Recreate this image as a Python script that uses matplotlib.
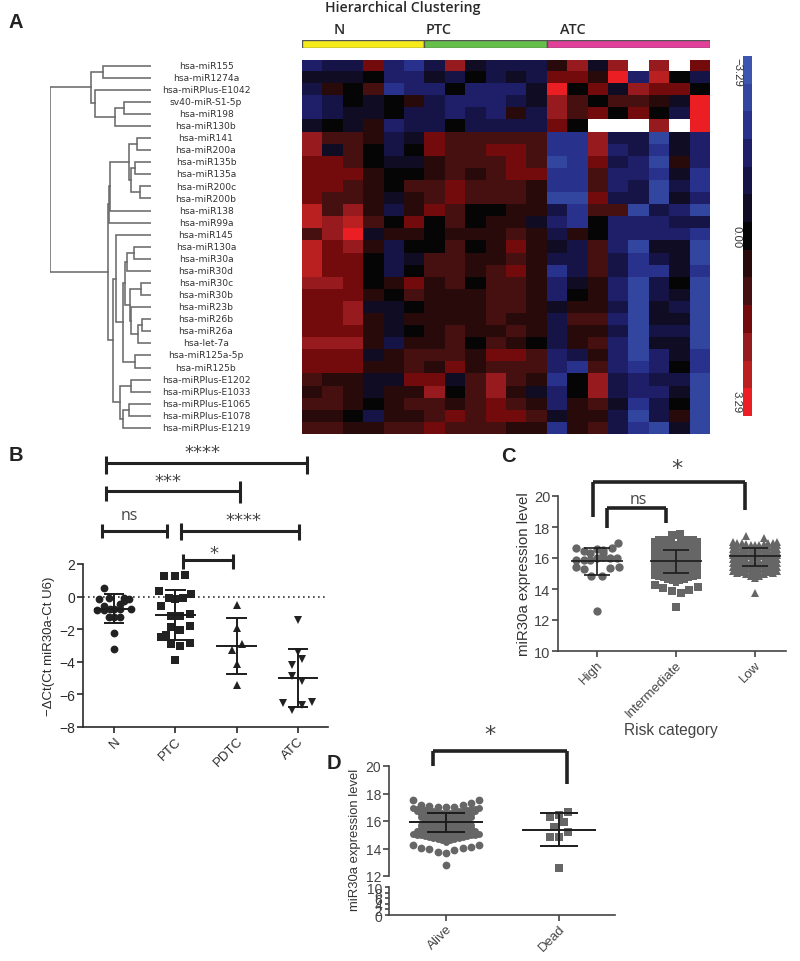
import numpy as np
import matplotlib
matplotlib.use("Agg")
import matplotlib.pyplot as plt
from matplotlib.colors import ListedColormap

W, H = 800, 962
SANS = "Liberation Sans"
plt.rcParams["font.family"] = [SANS, "DejaVu Sans"]

# ---------- Panel A data ----------
mirnas = ["hsa-miR155", "hsa-miR1274a", "hsa-miRPlus-E1042", "sv40-miR-S1-5p", "hsa-miR198", "hsa-miR130b",
          "hsa-miR141", "hsa-miR200a", "hsa-miR135b", "hsa-miR135a", "hsa-miR200c", "hsa-miR200b",
          "hsa-miR138", "hsa-miR99a", "hsa-miR145", "hsa-miR130a", "hsa-miR30a", "hsa-miR30d",
          "hsa-miR30c", "hsa-miR30b", "hsa-miR23b", "hsa-miR26b", "hsa-miR26a", "hsa-let-7a",
          "hsa-miR125a-5p", "hsa-miR125b", "hsa-miRPlus-E1202", "hsa-miRPlus-E1033",
          "hsa-miRPlus-E1065", "hsa-miRPlus-E1078", "hsa-miRPlus-E1219"]
X = np.nan
# colour steps: -6 (blue, -3.29) .. 0 (black) .. +6 (red, +3.29)
heat_steps = [
    [-3,-2,-2, 3,-3,-4,-2, 4,-1,-2,-2,-2, 1, 4,-1, 4, X, 4, X, 3],
    [-1,-1,-1, 0,-3,-3,-1,-2, 0,-2,-1,-2, 3, 3, 1, 6,-3, 5, 0,-2],
    [-2, 1, 0, 2,-4,-3,-3, 0,-3,-3,-3,-1, 6, 0, 3,-1, 4, 3, 3, 0],
    [-3,-2, 0,-1, 0, 1,-2,-3,-3,-3,-2,-1, 4, 2, 0, 2, 2, 1,-1, 6],
    [-3,-2,-1,-1, 0,-2,-2,-3,-2,-3, 1,-2, 4, 2, 3, 0, 3, 0,-2, 6],
    [-1, 0,-1, 1,-3,-2,-2, 0,-2,-2,-2,-2, 3, 0, X, X, X, 4, X, 6],
    [ 4, 2, 2, 1,-2,-1, 3, 2, 2, 2, 2, 2,-4,-4, 4,-2,-2,-5,-1,-3],
    [ 4,-1, 2, 0,-2, 0, 3, 2, 2, 3, 3, 2,-4,-4, 4,-3,-2,-4,-1,-3],
    [ 3, 3, 2, 0,-1,-1, 1, 2, 2, 2, 3, 2,-5,-4, 3,-2,-3,-5, 1,-3],
    [ 3, 3, 3, 1, 0, 0, 1, 2, 1, 2, 3, 3,-4,-4, 2,-3,-3,-4,-1,-4],
    [ 3, 3, 2, 1, 0, 2, 2, 3, 2, 2, 2, 1,-4,-4, 2,-3,-2,-5,-2,-4],
    [ 3, 2, 2, 1,-1, 1, 2, 3, 2, 2, 2, 1,-5,-5, 3,-2,-2,-5,-1,-3],
    [ 5, 2, 4, 1,-2, 1, 3, 2, 0, 0, 1, 1,-2,-4, 2, 2,-5,-2,-3,-5],
    [ 5, 4, 5, 2, 0, 3, 0, 2, 0, 1, 1,-1,-3,-4, 0,-3,-3,-3,-2,-2],
    [ 2, 4, 6,-1, 1, 1, 0, 1, 1, 1, 2, 1,-2, 1, 0,-3,-3,-3,-3,-4],
    [ 5, 3, 4, 1,-2, 0, 0, 2, 0, 1, 3, 1,-1,-2, 2,-3,-5,-1,-1,-5],
    [ 5, 3, 3, 0,-2,-1, 2, 2, 1, 1, 2, 1,-2,-2, 2,-2,-4,-2,-1,-5],
    [ 5, 3, 3, 0,-2, 0, 2, 2, 1, 2, 3, 1,-4,-2, 2,-2,-4,-4,-1,-4],
    [ 4, 4, 3, 0, 1, 3, 1, 2, 0, 2, 2, 1,-3,-1, 1,-3,-5,-2, 0,-5],
    [ 3, 3, 3, 1, 0, 2, 1, 1, 1, 2, 2, 1,-3, 0, 1,-3,-5,-2,-1,-5],
    [ 3, 3, 4,-1,-1, 0, 1, 1, 1, 2, 2, 1,-1, 1, 1,-2,-5,-1,-2,-5],
    [ 3, 3, 4, 1,-1, 1, 1, 1, 1, 2, 1, 1,-2, 2, 2,-3,-5,-1,-1,-5],
    [ 3, 3, 3, 1,-1, 0, 1, 2, 1, 1, 2, 1,-2, 1, 1,-2,-5,-2,-2,-5],
    [ 4, 4, 4, 1,-2, 1, 1, 2, 0, 2, 1, 0,-2, 1, 2,-3,-5,-1,-1,-5],
    [ 3, 3, 3,-1, 1, 2, 2, 2, 1, 3, 3, 2,-3,-2, 1,-3,-5,-3,-1,-4],
    [ 3, 3, 3, 1, 1, 2, 1, 3, 1, 2, 2, 2,-3,-4, 2,-3,-4,-3, 0,-4],
    [ 2, 1, 1,-1,-1, 3, 3,-1, 2, 4, 2, 1,-4, 0, 4,-2,-3,-2,-2,-5],
    [ 1, 2, 1,-1, 1, 1, 4, 0, 2, 4, 1,-1,-3, 0, 4,-2,-3,-3,-1,-5],
    [ 2, 2, 1, 0, 1, 2, 2, 1, 2, 3, 2, 1,-3, 1, 2,-1,-4,-2, 0,-5],
    [ 1, 1, 0,-2, 1, 1, 2, 3, 2, 3, 3, 2,-1, 1, 1,-2,-5,-2, 1,-5],
    [ 2, 2, 1, 1, 2, 2, 3, 2, 2, 2, 1, 1,-4, 1, 2,-2,-4,-5,-1,-5],
]
step_colors = ["#3c55af", "#32469f", "#28328c", "#1e1e69", "#161446", "#0f0c23", "#050505",
               "#280a0a", "#461010", "#730a0c", "#961a1e", "#b9201f", "#eb1e24"]
# merge tree: (distance, left, right); integers are row indices
tree = (101,
        (60, (48, 0, 1), (56, 2, (36, (27, 3, 4), 5))),
        (43,
         (42, (41, (22, (14, 6, 7), (20, (16, 8, 9), (11, 10, 11))), 12), 13),
         (38,
          (35, 14, (28,
                    (26, (24, (17, 15, 16), 17),
                     (21, (10, 18, 19), (20, 20, (13, (9, 21, 22), 23)))),
                    (16, 24, 25))),
          (31, (20, 26, 27), (28, (22, 28, 29), 30)))))

# ---------- Panel B data ----------
b_cats = ["N", "PTC", "PDTC", "ATC"]
b_mean = [-0.75, -1.1, -3.05, -5.0]
b_low = [-1.65, -2.65, -4.75, -6.8]
b_high = [0.15, 0.4, -1.3, -3.2]
n_dx = [-.16, -.25, .16, .25, .17, -.16, -.08, .09, -.27, -.16, -.07, 0, .09, .27, -.09, 0, .09, 0, 0]
n_y = [.55, -.15, -.1, -.15, -.3, -.55, -.1, -.45, -.8, -.8, -.75, -.75, -.75, -.75, -1.25, -1.25, -1.25, -2.25, -3.2]
ptc_dx = [-.18, 0, .16, -.26, -.11, .26, 0, .12, -.24, -.07, .08, .24, -.07, .08, .24, -.15, -.24, -.07, .08, .24, 0]
ptc_y = [1.25, 1.25, 1.35, .35, -.1, .15, -.15, -.1, -.6, -1.2, -1.2, -1.05, -1.85, -2.05, -1.8, -2.35, -2.5, -2.9, -3.05, -2.85, -3.9]
pdtc_dx = [0, 0, .08, -.08, 0, 0]
pdtc_y = [-.5, -1.95, -2.9, -3.25, -4.15, -5.45]
atc_dx = [0, .07, -.09, -.09, .07, -.24, .23, .07, -.09, 0]
atc_y = [-1.45, -3.8, -4.2, -4.85, -5.2, -6.55, -6.45, -6.65, -6.95, -3.4]

# ---------- Panel C data ----------
c_cats = ["High", "Intermediate", "Low"]
c_mean = [15.8, 15.8, 16.1]
c_low = [14.9, 15.05, 15.5]
c_high = [16.67, 16.5, 16.65]
high_dx = [-.27, .19, .27, -.17, 0, .07, -.09, .08, -.26, -.17, -.09, 0, .08, .16, .25, -.27, -.17, .16, .28, -.07, .06, 0]
high_y = [16.67, 16.63, 17.0, 16.45, 16.6, 16.35, 16.3, 16.5, 15.9, 15.9, 15.9, 16.0, 16.05, 16.03, 16.03, 15.43, 15.3, 15.35, 15.4, 14.85, 14.85, 12.55]
inter_bands = [
    [17.1, 17.2, 17.25, 17.2, 17.3, 17.4], [16.95, 16.9, 16.95, 16.9, 16.95, 16.9],
    [16.75, 16.7, 16.7, 16.7, 16.65, 16.6], [16.5, 16.45, 16.4, 16.4, 16.35, 16.3],
    [16.25, 16.2, 16.15, 16.1, 16.1, 16.05], [16.05, 16.0, 15.95, 15.9, 15.9, 15.85],
    [15.85, 15.8, 15.75, 15.7, 15.65, 15.6], [15.6, 15.55, 15.5, 15.45, 15.45, 15.4],
    [15.4, 15.35, 15.3, 15.25, 15.2, 15.15], [15.2, 15.15, 15.1, 15.0, 14.95, 14.9],
    [15.0, 14.95, 14.85, 14.75, 14.65, 14.55], [14.85, 14.8, 14.7, 14.6, 14.5, 14.4],
]
inter_dx = [-.27, -.16, -.05, .06, .17, .28, 0, -.05, .05]
inter_y = [14.25, 14.05, 13.9, 13.75, 13.95, 14.1, 12.85, 17.5, 17.55]
low_bands = [
    [17.05, 17.0, 16.95, 16.9, 16.85, 16.85], [16.85, 16.75, 16.7, 16.65, 16.6, 16.6],
    [16.6, 16.5, 16.45, 16.4, 16.35, 16.3], [16.4, 16.3, 16.2, 16.15, 16.1, 16.05],
    [16.2, 16.05, 15.95, 15.85, 15.8, 15.75], [15.95, 15.8, 15.7, 15.6, 15.55, 15.5],
    [15.7, 15.55, 15.45, 15.35, 15.3, 15.25], [15.45, 15.3, 15.2, 15.1, 15.05, 14.95],
    [15.15, 15.05, 15.1, 14.95, 14.85, 14.7],
]
low_dx = [-.12, .12, 0]
low_y = [17.42, 17.3, 13.73]

# ---------- Panel D data ----------
d_cats = ["Alive", "Dead"]
d_mean = [15.9, 15.37]
d_low = [15.2, 14.15]
d_high = [16.55, 16.6]
alive_dx = [-.294, -.22, -.148, -.074, 0, .074, .148, .22, .294,
            -.294, -.22, -.148, -.074, 0, .074, .148, .22, .294, 0]
alive_y = [17.53, 17.2, 17.1, 17.05, 17.0, 17.05, 17.15, 17.3, 17.5,
           14.23, 14.06, 13.94, 13.75, 13.7, 13.9, 14.04, 14.1, 14.25, 12.8]
alive_bands = [
    [16.95, 16.9, 16.85, 16.8, 16.75, 16.7, 16.65, 16.6, 16.55],
    [16.7, 16.65, 16.6, 16.55, 16.5, 16.45, 16.4, 16.3],
    [16.5, 16.45, 16.4, 16.3, 16.25, 16.2, 16.1],
    [16.3, 16.25, 16.2, 16.1, 16.05, 16.0, 15.95],
    [16.1, 16.05, 16.0, 15.9, 15.85, 15.8],
    [15.9, 15.85, 15.8, 15.75, 15.7, 15.6],
    [15.7, 15.65, 15.6, 15.5, 15.45, 15.4, 15.3],
    [15.5, 15.45, 15.4, 15.3, 15.25, 15.2, 15.1],
    [15.3, 15.25, 15.2, 15.1, 15.05, 15.0, 14.95, 14.85],
    [15.05, 15.0, 14.95, 14.9, 14.85, 14.75, 14.7, 14.6, 14.5],
]
dead_dx = [.08, -.08, 0, .04, -.04, .08, -.08, 0, 0]
dead_y = [16.65, 16.3, 16.45, 15.9, 15.6, 15.2, 14.85, 14.85, 12.55]

# ---------- helpers ----------
fig = plt.figure(figsize=(W / 100, H / 100), dpi=100, facecolor="white")


def ax_px(x0, y0, x1, y1, **kw):
    return fig.add_axes([x0 / W, 1 - y1 / H, (x1 - x0) / W, (y1 - y0) / H], **kw)


def style_axes(ax, color="#333333"):
    for side in ("top", "right"):
        ax.spines[side].set_visible(False)
    for side in ("left", "bottom"):
        ax.spines[side].set_linewidth(1.2)
        ax.spines[side].set_color(color)
    ax.tick_params(length=4, width=1.2, color=color, labelcolor=color, pad=1.5)
    ax.patch.set_alpha(0)


def rot_labels(ax, labels, size, color):
    ax.set_xticklabels(labels, rotation=45, ha="right", va="top", rotation_mode="anchor",
                       fontsize=size, color=color)


def stats(ax, cat, mean, low, high, mean_hw, cap_hw, lw=1.4):
    kw = dict(color="#1c1c1c", lw=lw, zorder=5, solid_capstyle="butt")
    ax.plot([cat, cat], [low, high], **kw)
    ax.plot([cat - mean_hw, cat + mean_hw], [mean, mean], **kw)
    for v in (low, high):
        ax.plot([cat - cap_hw, cat + cap_hw], [v, v], **kw)


def band_points(bands, cat, step):
    xs, ys = [], []
    for half in bands:
        vals = list(half) + list(half[-2::-1])
        n = len(vals)
        xs += [cat + (i - (n - 1) / 2) * step for i in range(n)]
        ys += vals
    return xs, ys


# ---------- overlay for text and brackets (pixel space) ----------
ov = ax_px(0, 0, W, H)
ov.set_xlim(0, W)
ov.set_ylim(H, 0)
ov.axis("off")
ov.set_zorder(10)


def bracket(x0, x1, y, left_bottom, right_bottom, lw=2.2, color="#222222", left_top=None, right_top=None):
    lt = y if left_top is None else left_top
    rt = y if right_top is None else right_top
    ov.plot([x0, x1], [y, y], color=color, lw=lw, solid_capstyle="butt")
    ov.plot([x0, x0], [lt, left_bottom], color=color, lw=lw, solid_capstyle="butt")
    ov.plot([x1, x1], [rt, right_bottom], color=color, lw=lw, solid_capstyle="butt")


def star(x, y, s, size=13):
    ov.text(x, y + 3, s, ha="center", va="center", fontsize=size, color="#444444", family="DejaVu Sans")


for s, x, y in [("A", 16, 23), ("B", 16, 456), ("C", 508, 457), ("D", 334, 764)]:
    ov.text(x, y, s, ha="center", va="center", fontsize=14.5, fontweight="bold", color="#222222")

OPEN = "Open Sans"
ov.text(403, 8, "Hierarchical Clustering", ha="center", va="center", fontsize=10.2, fontweight="semibold",
        family=OPEN, color="#2a2a2a")
for s, x in [("N", 339), ("PTC", 439), ("ATC", 573)]:
    ov.text(x, 30, s, ha="center", va="center", fontsize=10.4, fontweight="semibold", family=OPEN, color="#2a2a2a")

for s, y in [("\u22123.29", 72), ("0.00", 237), ("3.29", 402)]:
    ov.text(737, y, s, ha="center", va="center", rotation=270, fontsize=8.2, color="#333333")

bracket(106, 307, 464, 475, 475, left_top=457, right_top=457)
star(202, 450, "****")
bracket(106, 240, 492, 502, 504, left_top=487, right_top=482)
star(168, 479, "***")
bracket(102, 167, 532, 539, 539, left_top=525, right_top=525)
ov.text(129, 516, "ns", ha="center", va="center", fontsize=11.5, family=OPEN, color="#444444")
bracket(181, 299, 532, 541, 541, left_top=524, right_top=525)
star(243, 518, "****")
bracket(183, 233, 561, 570, 570, left_top=555, right_top=555)
star(214, 551, "*")

bracket(593, 745, 483, 518, 511, lw=2.6)
star(677, 466, "*", 16)
bracket(607, 666, 509, 529, 524, lw=2.6)
ov.text(638, 500, "ns", ha="center", va="center", fontsize=11.5, family=OPEN, color="#444444")
ov.text(671, 731, "Risk category", ha="center", va="center", fontsize=11.2, color="#444444")

bracket(433, 567, 752, 767, 785, lw=2.6)
star(490, 732, "*", 16)

# ---------- Panel A: heat map ----------
cmap = ListedColormap(step_colors)
cmap.set_bad("white")
heat = np.array(heat_steps, dtype=float)
ax_h = ax_px(302, 60.5, 710, 435)
ax_h.imshow(heat, cmap=cmap, vmin=-6.5, vmax=6.5, aspect="auto", interpolation="nearest")
ax_h.axis("off")

# group bar
ax_g = ax_px(302, 41, 710, 48.5)
ax_g.set_xlim(0, 20)
ax_g.set_ylim(0, 1)
for start, width, col in [(0, 6, "#f4ea1c"), (6, 6, "#66bf4a"), (12, 8, "#e0409a")]:
    ax_g.barh(0.5, width, left=start, height=1, color=col, edgecolor="#555555", linewidth=1)
ax_g.axis("off")

# colour bar
ax_c = ax_px(743, 57, 752, 417)
ax_c.imshow(np.arange(-6, 7)[:, None], cmap=cmap, vmin=-6.5, vmax=6.5, aspect="auto", interpolation="nearest")
ax_c.axis("off")

# dendrogram and labels
ax_d = ax_px(50, 60.5, 151, 435)
ax_d.set_xlim(101, 0)
ax_d.set_ylim(len(mirnas) - 0.5, -0.5)
ax_d.axis("off")


def draw_tree(node):
    if isinstance(node, int):
        return node, 0
    dist, left, right = node
    y0, h0 = draw_tree(left)
    y1, h1 = draw_tree(right)
    ax_d.plot([h0, dist, dist, h1], [y0, y0, y1, y1], color="#6a6a6a", lw=1.15, solid_joinstyle="miter")
    return (y0 + y1) / 2, dist


draw_tree(tree)
for i, name in enumerate(mirnas):
    ov.text(206, 66.3 + i * 12.07, name, ha="center", va="center", fontsize=6.55, color="#333333",
            family="DejaVu Sans")

# ---------- Panel B ----------
ax_b = ax_px(83, 565, 328, 728)
ax_b.set_xlim(-0.506, 3.49)
ax_b.set_ylim(-8, 2)
style_axes(ax_b, "#2a2a2a")
ax_b.axhline(0, color="#333333", lw=1.2, ls=(0, (1, 2)), zorder=1)
for i, (dx, ys, m, ms) in enumerate([(n_dx, n_y, "o", 5.6), (ptc_dx, ptc_y, "s", 5.4), (pdtc_dx, pdtc_y, "^", 5.6), (atc_dx, atc_y, "v", 5.6)]):
    ax_b.plot(i + np.array(dx), ys, m, color="#222222", ms=ms, mew=0, ls="none", clip_on=False, zorder=4)
    stats(ax_b, i, b_mean[i], b_low[i], b_high[i], 0.33, 0.17)
ax_b.set_yticks(range(-8, 3, 2))
ax_b.set_yticklabels([str(v).replace("-", "\u2212") for v in range(-8, 3, 2)], fontsize=10)
ax_b.set_xticks(range(4))
rot_labels(ax_b, b_cats, 9.5, "#2a2a2a")
ax_b.set_ylabel("\u2212\u0394Ct(Ct miR30a-Ct U6)", fontsize=9.5, color="#2a2a2a", labelpad=3)

# ---------- Panel C ----------
ax_cc = ax_px(558, 497, 786, 652)
ax_cc.set_xlim((558 - 597) / 79, (786 - 597) / 79)
ax_cc.set_ylim(10, 20)
style_axes(ax_cc, "#444444")
GREY = "#666666"
ax_cc.plot(np.array(high_dx), high_y, "o", color=GREY, ms=6, mew=0, zorder=3)
bx, by = band_points(inter_bands, 1, 0.0556)
ax_cc.plot(bx, by, "s", color=GREY, ms=4.8, mew=0, zorder=3)
ax_cc.plot(1 + np.array(inter_dx), inter_y, "s", color=GREY, ms=5.2, mew=0, zorder=3)
bx, by = band_points(low_bands, 2, 0.0556)
ax_cc.plot(bx, by, "^", color=GREY, ms=6.4, mew=0, zorder=3)
ax_cc.plot(2 + np.array(low_dx), low_y, "^", color=GREY, ms=6, mew=0, zorder=3)
for i in range(3):
    stats(ax_cc, i, c_mean[i], c_low[i], c_high[i], 0.33, 0.165, lw=1.2)
ax_cc.set_yticks(range(10, 21, 2))
ax_cc.tick_params(axis="y", labelsize=10.5)
ax_cc.set_xticks(range(3))
rot_labels(ax_cc, c_cats, 9.5, "#444444")
ax_cc.set_ylabel("miR30a expression level", fontsize=10.8, color="#333333", labelpad=2)

# ---------- Panel D (broken y axis) ----------
ax_u = ax_px(389, 767, 615, 877)
ax_l = ax_px(389, 888, 615, 916)
xlim = ((389 - 446) / 113, (615 - 446) / 113)
for a in (ax_u, ax_l):
    a.set_xlim(*xlim)
    style_axes(a, "#444444")
ax_u.set_ylim(12, 20)
ax_l.set_ylim(0, 10)
ax_u.spines["bottom"].set_visible(False)
ax_u.set_xticks([])
ax_u.plot(np.array(alive_dx), alive_y, "o", color=GREY, ms=5.6, mew=0, zorder=3)
bx, by = band_points(alive_bands, 0, 0.037)
ax_u.plot(bx, by, "o", color=GREY, ms=5, mew=0, zorder=3)
ax_u.plot(1 + np.array(dead_dx), dead_y, "s", color=GREY, ms=5.2, mew=0, zorder=3)
stats(ax_u, 0, d_mean[0], d_low[0], d_high[0], 0.33, 0.165)
stats(ax_u, 1, d_mean[1], d_low[1], d_high[1], 0.33, 0.165)
ax_u.set_yticks(range(12, 21, 2))
ax_u.tick_params(axis="y", labelsize=10)
ax_l.set_yticks(range(0, 11, 2))
ax_l.tick_params(axis="y", labelsize=10, length=3, pad=2)
ax_l.set_xticks([0, 1])
rot_labels(ax_l, d_cats, 9.5, "#444444")
ov.text(355, 840, "miR30a expression level", rotation=90, ha="center", va="center", fontsize=9.4, color="#333333")

fig.savefig("out.png", dpi=100, facecolor="white")
